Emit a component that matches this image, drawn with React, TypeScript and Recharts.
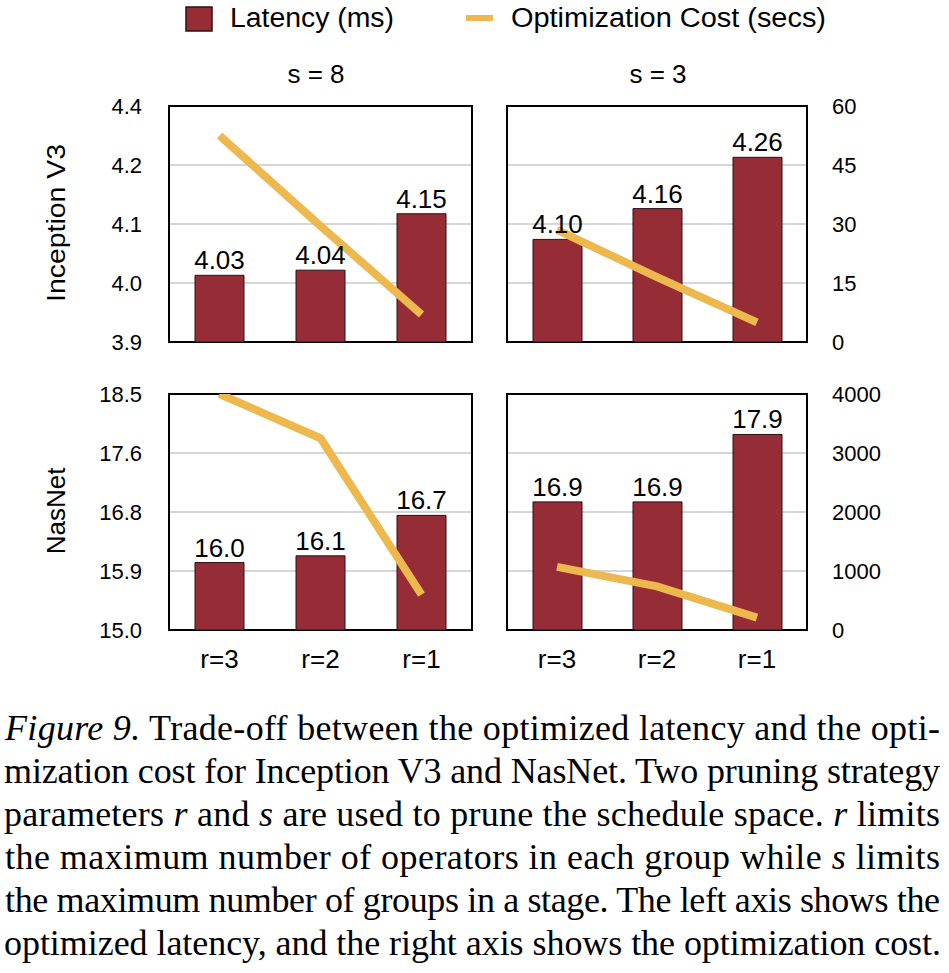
import React from 'react';
import {
  ComposedChart,
  Bar,
  Line,
  XAxis,
  YAxis,
  CartesianGrid,
  LabelList,
  ReferenceArea,
} from 'recharts';

// ---------- data ----------
const categories = ['r=3', 'r=2', 'r=1'];

const inceptionS8Latency = [4.03, 4.04, 4.15];
const inceptionS8Cost = [52.5, 29.5, 7];
const inceptionS3Latency = [4.1, 4.16, 4.26];
const inceptionS3Cost = [28.5, 16.5, 5];

const nasnetS8Latency = [16.0, 16.1, 16.7];
const nasnetS8Cost = [4000, 3250, 600];
const nasnetS3Latency = [16.9, 16.9, 17.9];
const nasnetS3Cost = [1070, 740, 210];

const inceptionLatencyTicks = [3.9, 4.015, 4.13, 4.245, 4.36];
const inceptionLatencyTickLabels = ['3.9', '4.0', '4.1', '4.2', '4.4'];
const inceptionCostTicks = [0, 15, 30, 45, 60];

const nasnetLatencyTicks = [15.0, 15.875, 16.75, 17.625, 18.5];
const nasnetLatencyTickLabels = ['15.0', '15.9', '16.8', '17.6', '18.5'];
const nasnetCostTicks = [0, 1000, 2000, 3000, 4000];

const columnTitles = ['s = 8', 's = 3'];
const rowTitles = ['Inception V3', 'NasNet'];
const seriesNames = ['Latency (ms)', 'Optimization Cost (secs)'];

// ---------- styles ----------
const BAR_COLOR = '#952C36';
const BAR_STROKE = '#2a1214';
const LINE_COLOR = '#EDB84E';
const GRID_COLOR = '#d6d6d6';
const SANS = '"Liberation Sans", Arial, Helvetica, sans-serif';
const SERIF = '"Liberation Serif", "Times New Roman", Times, serif';

const build = (lat: number[], cost: number[]) =>
  categories.map((c, i) => ({ cat: c, latency: lat[i], cost: cost[i] }));

type PanelProps = {
  left: number;
  top: number;
  width: number;
  height: number;
  margin: { top: number; right: number; bottom: number; left: number };
  data: { cat: string; latency: number; cost: number }[];
  showLeft: boolean;
  showRight: boolean;
  showX: boolean;
  latTicks: number[];
  latLabels: string[];
  costTicks: number[];
  decimals: number;
};

function Panel(p: PanelProps) {
  const latMin = p.latTicks[0];
  const latMax = p.latTicks[p.latTicks.length - 1];
  const costMin = p.costTicks[0];
  const costMax = p.costTicks[p.costTicks.length - 1];
  return (
    <div style={{ position: 'absolute', left: p.left, top: p.top }}>
      <ComposedChart
        width={p.width}
        height={p.height}
        data={p.data}
        margin={p.margin}
        barCategoryGap={0}
      >
        <CartesianGrid
          yAxisId="lat"
          vertical={false}
          stroke={GRID_COLOR}
          strokeWidth={2}
        />
        <XAxis
          dataKey="cat"
          hide={!p.showX}
          height={50}
          axisLine={false}
          tickLine={false}
          tickSize={0}
          tickMargin={20}
          interval={0}
          tick={{ fontSize: 26, fill: '#000', fontFamily: SANS }}
        />
        <YAxis
          yAxisId="lat"
          orientation="left"
          domain={[latMin, latMax]}
          ticks={p.latTicks}
          allowDataOverflow
          hide={!p.showLeft}
          width={169}
          axisLine={false}
          tickLine={false}
          tickSize={0}
          tickMargin={27}
          interval={0}
          tickFormatter={(v: number) => p.latLabels[p.latTicks.indexOf(v)] ?? String(v)}
          tick={{ fontSize: 22, fill: '#000', fontFamily: SANS }}
        />
        <YAxis
          yAxisId="cost"
          orientation="right"
          domain={[costMin, costMax]}
          ticks={p.costTicks}
          allowDataOverflow
          hide={!p.showRight}
          width={110}
          axisLine={false}
          tickLine={false}
          tickSize={0}
          tickMargin={25}
          interval={0}
          tick={{ fontSize: 22, fill: '#000', fontFamily: SANS, textAnchor: 'start' }}
        />
        <Bar
          yAxisId="lat"
          dataKey="latency"
          fill={BAR_COLOR}
          stroke={BAR_STROKE}
          strokeWidth={1}
          barSize={49}
          isAnimationActive={false}
        >
          <LabelList
            dataKey="latency"
            position="top"
            offset={6}
            formatter={(v: any) => Number(v).toFixed(p.decimals)}
            style={{ fontSize: 26, fill: '#000', fontFamily: SANS }}
          />
        </Bar>
        <Line
          yAxisId="cost"
          dataKey="cost"
          stroke={LINE_COLOR}
          strokeWidth={8}
          dot={false}
          activeDot={false}
          isAnimationActive={false}
        />
        <ReferenceArea
          yAxisId="lat"
          y1={latMin}
          y2={latMax}
          fill="none"
          fillOpacity={0}
          stroke="#000"
          strokeWidth={2}
          isFront
        />
      </ComposedChart>
    </div>
  );
}

export default function App() {
  return (
    <div
      style={{
        position: 'absolute',
        left: 0,
        top: 0,
        width: 949,
        height: 973,
        background: '#fff',
        fontFamily: SANS,
      }}
    >
      {/* top-left: Inception V3, s = 8 */}
      <Panel
        left={0}
        top={70}
        width={482}
        height={290}
        margin={{ top: 36, right: 10, bottom: 18, left: 0 }}
        data={build(inceptionS8Latency, inceptionS8Cost)}
        showLeft
        showRight={false}
        showX={false}
        latTicks={inceptionLatencyTicks}
        latLabels={inceptionLatencyTickLabels}
        costTicks={inceptionCostTicks}
        decimals={2}
      />
      {/* top-right: Inception V3, s = 3 */}
      <Panel
        left={497}
        top={70}
        width={420}
        height={290}
        margin={{ top: 36, right: 0, bottom: 18, left: 10 }}
        data={build(inceptionS3Latency, inceptionS3Cost)}
        showLeft={false}
        showRight
        showX={false}
        latTicks={inceptionLatencyTicks}
        latLabels={inceptionLatencyTickLabels}
        costTicks={inceptionCostTicks}
        decimals={2}
      />
      {/* bottom-left: NasNet, s = 8 */}
      <Panel
        left={0}
        top={360}
        width={482}
        height={320}
        margin={{ top: 34, right: 10, bottom: 0, left: 0 }}
        data={build(nasnetS8Latency, nasnetS8Cost)}
        showLeft
        showRight={false}
        showX
        latTicks={nasnetLatencyTicks}
        latLabels={nasnetLatencyTickLabels}
        costTicks={nasnetCostTicks}
        decimals={1}
      />
      {/* bottom-right: NasNet, s = 3 */}
      <Panel
        left={497}
        top={360}
        width={420}
        height={320}
        margin={{ top: 34, right: 0, bottom: 0, left: 10 }}
        data={build(nasnetS3Latency, nasnetS3Cost)}
        showLeft={false}
        showRight
        showX
        latTicks={nasnetLatencyTicks}
        latLabels={nasnetLatencyTickLabels}
        costTicks={nasnetCostTicks}
        decimals={1}
      />

      {/* legend, titles, row labels, caption */}
      <svg
        width={949}
        height={973}
        style={{ position: 'absolute', left: 0, top: 0, pointerEvents: 'none' }}
      >
        <rect x={186} y={7} width={26} height={24} fill={BAR_COLOR} stroke={BAR_STROKE} strokeWidth={1.5} />
        <text x={230} y={27} fontSize={27} fontFamily={SANS} fill="#000" textLength={164} lengthAdjust="spacingAndGlyphs">
          {seriesNames[0]}
        </text>
        <line x1={466} x2={493} y1={18} y2={18} stroke={LINE_COLOR} strokeWidth={6} />
        <text x={511} y={27} fontSize={27} fontFamily={SANS} fill="#000" textLength={315} lengthAdjust="spacingAndGlyphs">
          {seriesNames[1]}
        </text>

        <text x={316} y={82.5} fontSize={26} fontFamily={SANS} fill="#000" textAnchor="middle">
          {columnTitles[0]}
        </text>
        <text x={658} y={82.5} fontSize={26} fontFamily={SANS} fill="#000" textAnchor="middle">
          {columnTitles[1]}
        </text>

        <text
          transform="translate(65,223) rotate(-90)"
          fontSize={26}
          fontFamily={SANS}
          fill="#000"
          textAnchor="middle"
          textLength={158}
          lengthAdjust="spacingAndGlyphs"
        >
          {rowTitles[0]}
        </text>
        <text
          transform="translate(65,511) rotate(-90)"
          fontSize={26}
          fontFamily={SANS}
          fill="#000"
          textAnchor="middle"
        >
          {rowTitles[1]}
        </text>

        <g fontFamily={SERIF} fontSize={36} fill="#000">
          <text x={5} y={740} textLength={935} lengthAdjust="spacing">
            <tspan fontStyle="italic">Figure 9.</tspan> Trade-off between the optimized latency and the opti-
          </text>
          <text x={4} y={783} textLength={936} lengthAdjust="spacing">
            mization cost for Inception V3 and NasNet. Two pruning strategy
          </text>
          <text x={4} y={826} textLength={936} lengthAdjust="spacing">
            parameters <tspan fontStyle="italic">r</tspan> and <tspan fontStyle="italic">s</tspan> are used to prune the schedule space. <tspan fontStyle="italic">r</tspan> limits
          </text>
          <text x={5} y={869} textLength={935} lengthAdjust="spacing">
            the maximum number of operators in each group while <tspan fontStyle="italic">s</tspan> limits
          </text>
          <text x={5} y={912} textLength={935} lengthAdjust="spacing">
            the maximum number of groups in a stage. The left axis shows the
          </text>
          <text x={4} y={955} textLength={937} lengthAdjust="spacing">
            optimized latency, and the right axis shows the optimization cost.
          </text>
        </g>
      </svg>
    </div>
  );
}
